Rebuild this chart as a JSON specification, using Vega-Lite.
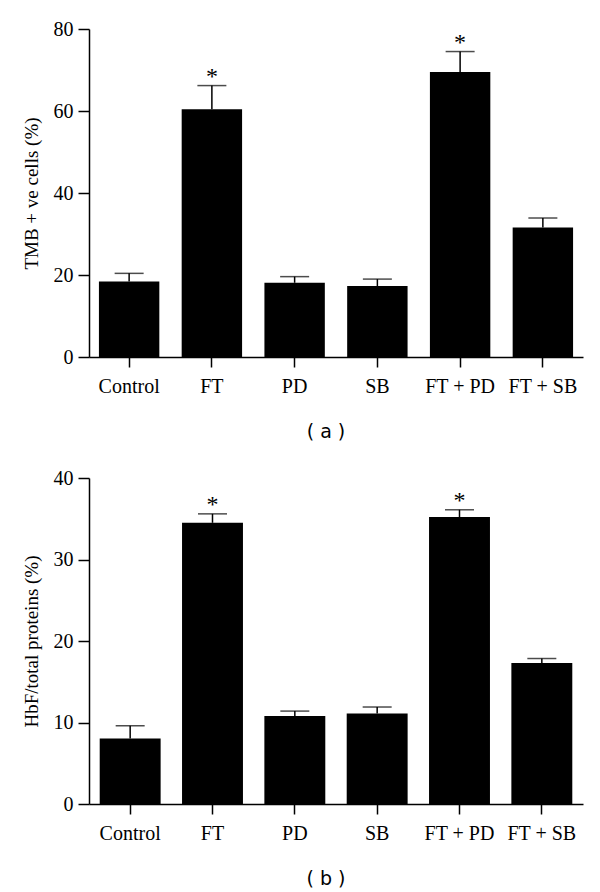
{
  "$schema": "https://vega.github.io/schema/vega-lite/v6.json",
  "background": "white",
  "padding": {"left": 22, "top": 19, "right": 10, "bottom": 5},
  "spacing": 26,
  "config": {
    "view": {"stroke": null},
    "axis": {"grid": false, "domainColor": "black", "tickColor": "black", "labelColor": "black", "titleColor": "black",
      "labelFont": "Liberation Serif", "titleFont": "Liberation Serif", "labelFontSize": 20, "titleFontSize": 19,
      "titleFontWeight": "normal", "domainWidth": 1.5, "tickWidth": 1.5, "tickSize": 10},
    "axisY": {"tickSize": 11, "labelPadding": 5, "minExtent": 36, "maxExtent": 36, "titlePadding": 11.5},
    "title": {"font": "DejaVu Sans", "fontSize": 19, "fontWeight": "normal", "color": "black"}
  },
  "datasets": {
    "a": [
      {"group": "Control", "mean": 18.4, "upper": 20.4, "sig": ""},
      {"group": "FT", "mean": 60.4, "upper": 66.2, "sig": "*"},
      {"group": "PD", "mean": 18.1, "upper": 19.6, "sig": ""},
      {"group": "SB", "mean": 17.3, "upper": 19.0, "sig": ""},
      {"group": "FT + PD", "mean": 69.5, "upper": 74.5, "sig": "*"},
      {"group": "FT + SB", "mean": 31.6, "upper": 33.9, "sig": ""}
    ],
    "b": [
      {"group": "Control", "mean": 8.05, "upper": 9.6, "sig": ""},
      {"group": "FT", "mean": 34.5, "upper": 35.6, "sig": "*"},
      {"group": "PD", "mean": 10.8, "upper": 11.4, "sig": ""},
      {"group": "SB", "mean": 11.1, "upper": 11.9, "sig": ""},
      {"group": "FT + PD", "mean": 35.2, "upper": 36.1, "sig": "*"},
      {"group": "FT + SB", "mean": 17.3, "upper": 17.85, "sig": ""}
    ]
  },
  "vconcat": [
    {
      "width": 494,
      "height": 328,
      "title": {"text": "( a )", "orient": "bottom", "offset": 27, "frame": "group", "dx": -10},
      "data": {"name": "a"},
      "encoding": {
        "x": {"field": "group", "type": "nominal", "sort": null,
          "scale": {"paddingInner": 0.27, "paddingOuter": 0.12},
          "axis": {"title": null, "labelAngle": 0, "labelPadding": 9, "tickSize": 10}}
      },
      "layer": [
        {"mark": {"type": "bar", "color": "black"},
         "encoding": {"y": {"field": "mean", "type": "quantitative", "title": "TMB + ve cells (%)",
           "scale": {"domain": [0, 80], "nice": false},
           "axis": {"values": [0, 20, 40, 60, 80]}}}},
        {"mark": {"type": "rule", "color": "black", "strokeWidth": 1.5},
         "encoding": {"y": {"field": "mean", "type": "quantitative", "title": "TMB + ve cells (%)"}, "y2": {"field": "upper"}}},
        {"mark": {"type": "tick", "color": "black", "thickness": 1.5, "size": 29},
         "encoding": {"y": {"field": "upper", "type": "quantitative", "title": "TMB + ve cells (%)"}}},
        {"mark": {"type": "text", "font": "Liberation Serif", "fontSize": 24, "baseline": "alphabetic", "dy": -2, "color": "black"},
         "encoding": {"y": {"field": "upper", "type": "quantitative", "title": "TMB + ve cells (%)"}, "text": {"field": "sig"}}}
      ]
    },
    {
      "width": 494,
      "height": 326,
      "title": {"text": "( b )", "orient": "bottom", "offset": 27, "frame": "group", "dx": -10},
      "data": {"name": "b"},
      "encoding": {
        "x": {"field": "group", "type": "nominal", "sort": null,
          "scale": {"paddingInner": 0.26, "paddingOuter": 0.13},
          "axis": {"title": null, "labelAngle": 0, "labelPadding": 9, "tickSize": 10}}
      },
      "layer": [
        {"mark": {"type": "bar", "color": "black"},
         "encoding": {"y": {"field": "mean", "type": "quantitative", "title": "HbF/total proteins (%)",
           "scale": {"domain": [0, 40], "nice": false},
           "axis": {"values": [0, 10, 20, 30, 40]}}}},
        {"mark": {"type": "rule", "color": "black", "strokeWidth": 1.5},
         "encoding": {"y": {"field": "mean", "type": "quantitative", "title": "HbF/total proteins (%)"}, "y2": {"field": "upper"}}},
        {"mark": {"type": "tick", "color": "black", "thickness": 1.5, "size": 29},
         "encoding": {"y": {"field": "upper", "type": "quantitative", "title": "HbF/total proteins (%)"}}},
        {"mark": {"type": "text", "font": "Liberation Serif", "fontSize": 24, "baseline": "alphabetic", "dy": -2, "color": "black"},
         "encoding": {"y": {"field": "upper", "type": "quantitative", "title": "HbF/total proteins (%)"}, "text": {"field": "sig"}}}
      ]
    }
  ]
}
